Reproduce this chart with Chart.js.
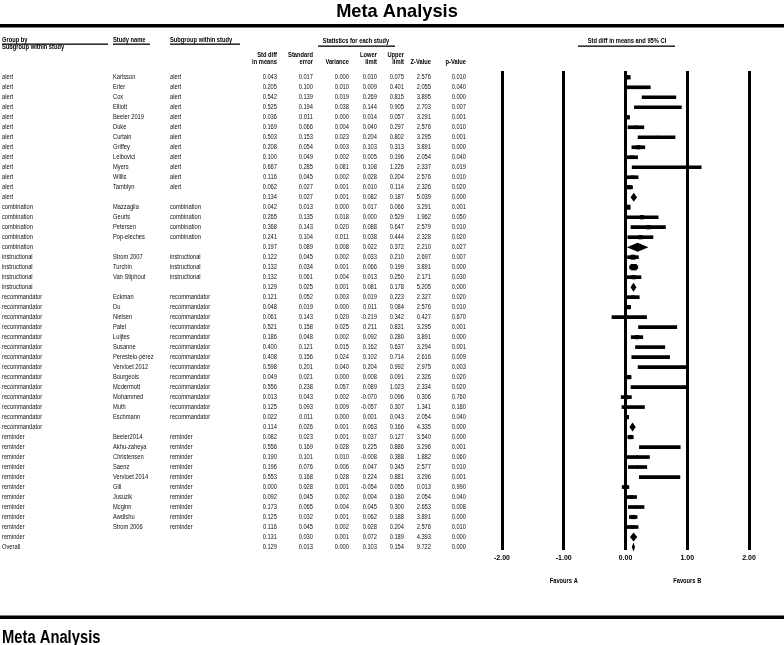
<!DOCTYPE html>
<html>
<head>
<meta charset="utf-8">
<script src="https://cdn.jsdelivr.net/npm/chart.js@4.4.0/dist/chart.umd.min.js"></script>
<style>
  html, body { margin: 0; padding: 0; background: #fff; }
  #c { display: block; }
</style>
</head>
<body>
<canvas id="c" width="784" height="645"></canvas>
<script>
// Rows of the table / forest plot (summary rows have an empty study name)
const groups = [
  'alert', 'alert', 'alert', 'alert', 'alert', 'alert', 'alert', 'alert', 'alert', 'alert', 'alert', 'alert', 'alert',
  'combination', 'combination', 'combination', 'combination', 'combination',
  'instructional', 'instructional', 'instructional', 'instructional',
  'recommandator', 'recommandator', 'recommandator', 'recommandator', 'recommandator', 'recommandator', 'recommandator',
  'recommandator', 'recommandator', 'recommandator', 'recommandator', 'recommandator', 'recommandator', 'recommandator',
  'reminder', 'reminder', 'reminder', 'reminder', 'reminder', 'reminder', 'reminder', 'reminder', 'reminder', 'reminder', 'reminder',
  'Overall'
];
const studyNames = [
  'Karlsson', 'Erler', 'Cox', 'Elliott', 'Beeler 2019', 'Duke', 'Curtain', 'Griffey', 'Leibovici', 'Myers', 'Willis', 'Tamblyn', '',
  'Mazzaglia', 'Geurts', 'Petersen', 'Pop-eleches', '',
  'Strom 2007', 'Turchin', 'Van Stiphout', '',
  'Eckman', 'Du', 'Nielsen', 'Patel', 'Luijtes', 'Susanne', 'Perestelo-pérez',
  'Vervloet 2012', 'Bourgeois', 'Mcdermott', 'Mohammed', 'Muth', 'Eschmann', '',
  'Beeler2014', 'Akhu-zaheya', 'Christensen', 'Saenz', 'Vervloet 2014', 'Gill', 'Jusuzik', 'Mcginn', 'Awdishu', 'Strom 2006', '',
  ''
];
const stdDiff = [
  0.043, 0.205, 0.542, 0.525, 0.036, 0.169, 0.503, 0.208, 0.100, 0.667, 0.116, 0.062, 0.134,
  0.042, 0.265, 0.368, 0.241, 0.197,
  0.122, 0.132, 0.132, 0.129,
  0.121, 0.048, 0.061, 0.521, 0.186, 0.400, 0.408, 0.598, 0.049, 0.556, 0.013, 0.125, 0.022, 0.114,
  0.082, 0.556, 0.190, 0.196, 0.553, 0.000, 0.092, 0.173, 0.125, 0.116, 0.131,
  0.129
];
const stdErr = [
  0.017, 0.100, 0.139, 0.194, 0.011, 0.066, 0.153, 0.054, 0.049, 0.285, 0.045, 0.027, 0.027,
  0.013, 0.135, 0.143, 0.104, 0.089,
  0.045, 0.034, 0.061, 0.025,
  0.052, 0.019, 0.143, 0.158, 0.048, 0.121, 0.156, 0.201, 0.021, 0.238, 0.043, 0.093, 0.011, 0.026,
  0.023, 0.169, 0.101, 0.076, 0.168, 0.028, 0.045, 0.065, 0.032, 0.045, 0.030,
  0.013
];
const variance = [
  0.000, 0.010, 0.019, 0.038, 0.000, 0.004, 0.023, 0.003, 0.002, 0.081, 0.002, 0.001, 0.001,
  0.000, 0.018, 0.020, 0.011, 0.008,
  0.002, 0.001, 0.004, 0.001,
  0.003, 0.000, 0.020, 0.025, 0.002, 0.015, 0.024, 0.040, 0.000, 0.057, 0.002, 0.009, 0.000, 0.001,
  0.001, 0.028, 0.010, 0.006, 0.028, 0.001, 0.002, 0.004, 0.001, 0.002, 0.001,
  0.000
];
const lowerLimit = [
  0.010, 0.009, 0.269, 0.144, 0.014, 0.040, 0.204, 0.103, 0.005, 0.108, 0.028, 0.010, 0.082,
  0.017, 0.000, 0.088, 0.038, 0.022,
  0.033, 0.066, 0.013, 0.081,
  0.019, 0.011, -0.219, 0.211, 0.092, 0.162, 0.102, 0.204, 0.008, 0.089, -0.070, -0.057, 0.001, 0.063,
  0.037, 0.225, -0.008, 0.047, 0.224, -0.054, 0.004, 0.045, 0.062, 0.028, 0.072,
  0.103
];
const upperLimit = [
  0.075, 0.401, 0.815, 0.905, 0.057, 0.297, 0.802, 0.313, 0.196, 1.226, 0.204, 0.114, 0.187,
  0.066, 0.529, 0.647, 0.444, 0.372,
  0.210, 0.199, 0.250, 0.178,
  0.223, 0.084, 0.342, 0.831, 0.280, 0.637, 0.714, 0.992, 0.091, 1.023, 0.096, 0.307, 0.043, 0.166,
  0.127, 0.886, 0.388, 0.345, 0.881, 0.055, 0.180, 0.300, 0.188, 0.204, 0.189,
  0.154
];
const zValue = [
  2.576, 2.055, 3.895, 2.703, 3.291, 2.576, 3.295, 3.891, 2.054, 2.337, 2.576, 2.326, 5.039,
  3.291, 1.962, 2.579, 2.328, 2.210,
  2.697, 3.891, 2.171, 5.205,
  2.327, 2.576, 0.427, 3.295, 3.891, 3.294, 2.616, 2.975, 2.326, 2.334, 0.306, 1.341, 2.054, 4.335,
  3.540, 3.296, 1.882, 2.577, 3.296, 0.013, 2.054, 2.653, 3.891, 2.576, 4.393,
  9.722
];
const pValue = [
  0.010, 0.040, 0.000, 0.007, 0.001, 0.010, 0.001, 0.000, 0.040, 0.019, 0.010, 0.020, 0.000,
  0.001, 0.050, 0.010, 0.020, 0.027,
  0.007, 0.000, 0.030, 0.000,
  0.020, 0.010, 0.670, 0.001, 0.000, 0.001, 0.009, 0.003, 0.020, 0.020, 0.760, 0.180, 0.040, 0.000,
  0.000, 0.001, 0.060, 0.010, 0.001, 0.990, 0.040, 0.008, 0.000, 0.010, 0.000,
  0.000
];
// relative weight of each study (box size)
const boxWeight = [
  2, 0.5, 0.5, 0.5, 2, 1.5, 1, 2, 1.5, 0.5, 1.5, 2, null,
  2.5, 2, 2, 2, null,
  2.5, 3.5, 2, null,
  1.5, 2, 0.5, 0.5, 2, 0.5, 0.5, 0.5, 2, 0.5, 2, 0.5, 2, null,
  2, 0.5, 1, 1, 0.5, 2, 1.5, 1, 2, 1.5, null,
  null
];
const xTicks = [-2, -1, 0, 1, 2];
const favourLabels = ['Favours A', 'Favours B'];

const SANS = '"Liberation Sans", Arial, sans-serif';
const NARROW_X = 0.82; // Arial Narrow look: Arial squeezed horizontally
const rows = studyNames.map((n, i) => i);
const studyRows = rows.filter(i => studyNames[i] !== '');
const summaryRows = rows.filter(i => studyNames[i] === '');

const ciData = studyRows.map(i => ({ x: [lowerLimit[i], upperLimit[i]], y: i + 1 }));
const boxData = studyRows.map(i => ({ x: stdDiff[i], y: i + 1 }));
const boxRadius = studyRows.map(i => 1 + boxWeight[i]);

// narrow text helper
function narrowText(ctx, t, x, y, align) {
  ctx.save();
  ctx.translate(x, y);
  ctx.scale(NARROW_X, 1);
  ctx.textAlign = align || 'left';
  ctx.fillText(t, 0, 0);
  ctx.restore();
}

// table text, headers, diamonds
const tablePlugin = {
  id: 'tablePlugin',
  afterDatasetsDraw(chart) {
    const ctx = chart.ctx;
    const xs = chart.scales.x, ys = chart.scales.y;
    ctx.save();
    ctx.fillStyle = '#000';
    summaryRows.forEach(i => {
      const y = ys.getPixelForValue(i + 1);
      ctx.beginPath();
      ctx.moveTo(xs.getPixelForValue(lowerLimit[i]), y);
      ctx.lineTo(xs.getPixelForValue(stdDiff[i]), y - 4.5);
      ctx.lineTo(xs.getPixelForValue(upperLimit[i]), y);
      ctx.lineTo(xs.getPixelForValue(stdDiff[i]), y + 4.5);
      ctx.closePath();
      ctx.fill();
    });
    ctx.restore();
  },
  afterDraw(chart) {
    const ctx = chart.ctx;
    const xs = chart.scales.x, ys = chart.scales.y;
    ctx.save();
    ctx.fillStyle = '#000';

    // titles and thick rules
    ctx.font = 'bold 19px ' + SANS;
    ctx.textBaseline = 'alphabetic';
    ctx.save();
    ctx.translate(397, 17);
    ctx.scale(0.96, 1);
    ctx.textAlign = 'center';
    ctx.fillText('Meta Analysis', 0, 0);
    ctx.restore();
    ctx.fillRect(0, 24, 784, 3.5);
    ctx.fillRect(0, 615.5, 784, 3.5);
    ctx.font = 'bold 18px ' + SANS;
    narrowText(ctx, 'Meta Analysis', 2, 643);

    // headers
    ctx.font = 'bold 7px ' + SANS;
    ctx.textBaseline = 'middle';
    const rule = (x1, x2, y) => ctx.fillRect(x1, y, x2 - x1, 1.3);
    narrowText(ctx, 'Group by', 2, 40); rule(2, 108, 43.5);
    narrowText(ctx, 'Subgroup within study', 2, 47.5);
    narrowText(ctx, 'Study name', 113, 40); rule(113, 150, 43.5);
    narrowText(ctx, 'Subgroup within study', 170, 40); rule(170, 240, 43.5);
    narrowText(ctx, 'Statistics for each study', 356, 41.5, 'center'); rule(318, 395, 45.5);
    narrowText(ctx, 'Std diff in means and 95% CI', 627, 41.5, 'center'); rule(578, 675, 45.5);

    const colRight = [277, 313, 349, 377, 404, 431, 466];
    const colHead = [['Std diff', 'in means'], ['Standard', 'error'], ['', 'Variance'], ['Lower', 'limit'],
      ['Upper', 'limit'], ['', 'Z-Value'], ['', 'p-Value']];
    colHead.forEach((h, k) => {
      narrowText(ctx, h[0], colRight[k], 55, 'right');
      narrowText(ctx, h[1], colRight[k], 62.5, 'right');
    });

    // body
    ctx.font = '7px ' + SANS;
    ctx.fillStyle = '#111';
    const cols = [stdDiff, stdErr, variance, lowerLimit, upperLimit, zValue, pValue];
    rows.forEach(i => {
      const y = ys.getPixelForValue(i + 1);
      narrowText(ctx, groups[i], 2, y);
      if (studyNames[i] !== '') {
        narrowText(ctx, studyNames[i], 113, y);
        narrowText(ctx, groups[i], 170, y);
      }
      cols.forEach((arr, k) => narrowText(ctx, arr[i].toFixed(3), colRight[k], y, 'right'));
    });

    // favours labels
    ctx.fillStyle = '#000';
    ctx.font = 'bold 7px ' + SANS;
    narrowText(ctx, favourLabels[0], xs.getPixelForValue(-1), 581, 'center');
    narrowText(ctx, favourLabels[1], xs.getPixelForValue(1), 581, 'center');
    ctx.restore();
  }
};

new Chart(document.getElementById('c'), {
  type: 'bar',
  data: {
    datasets: [
      {
        type: 'bar',
        indexAxis: 'y',
        data: ciData,
        backgroundColor: '#000',
        borderWidth: 0,
        barThickness: 3,
        grouped: false
      },
      {
        type: 'scatter',
        data: boxData,
        pointStyle: 'rect',
        pointRadius: boxRadius,
        backgroundColor: '#000',
        borderWidth: 0
      }
    ]
  },
  options: {
    responsive: false,
    animation: false,
    devicePixelRatio: 1,
    layout: { padding: { left: 502, right: 35, top: 71, bottom: 75 } },
    scales: {
      x: {
        type: 'linear',
        min: -2,
        max: 2,
        offset: false,
        afterBuildTicks: s => { s.ticks = xTicks.map(v => ({ value: v })); },
        afterFit: s => { s.height = 20; },
        ticks: {
          padding: 4,
          color: '#000',
          font: { family: SANS, size: 7, weight: 'bold' },
          callback: v => v.toFixed(2),
          maxRotation: 0
        },
        grid: { color: '#000', lineWidth: 3, drawTicks: false, offset: false },
        border: { display: false }
      },
      y: {
        type: 'linear',
        reverse: true,
        min: 0.37,
        max: 48.3,
        offset: false,
        grid: { offset: false },
        display: false
      }
    },
    plugins: {
      legend: { display: false },
      tooltip: { enabled: false }
    }
  },
  plugins: [tablePlugin]
});
</script>
</body>
</html>
